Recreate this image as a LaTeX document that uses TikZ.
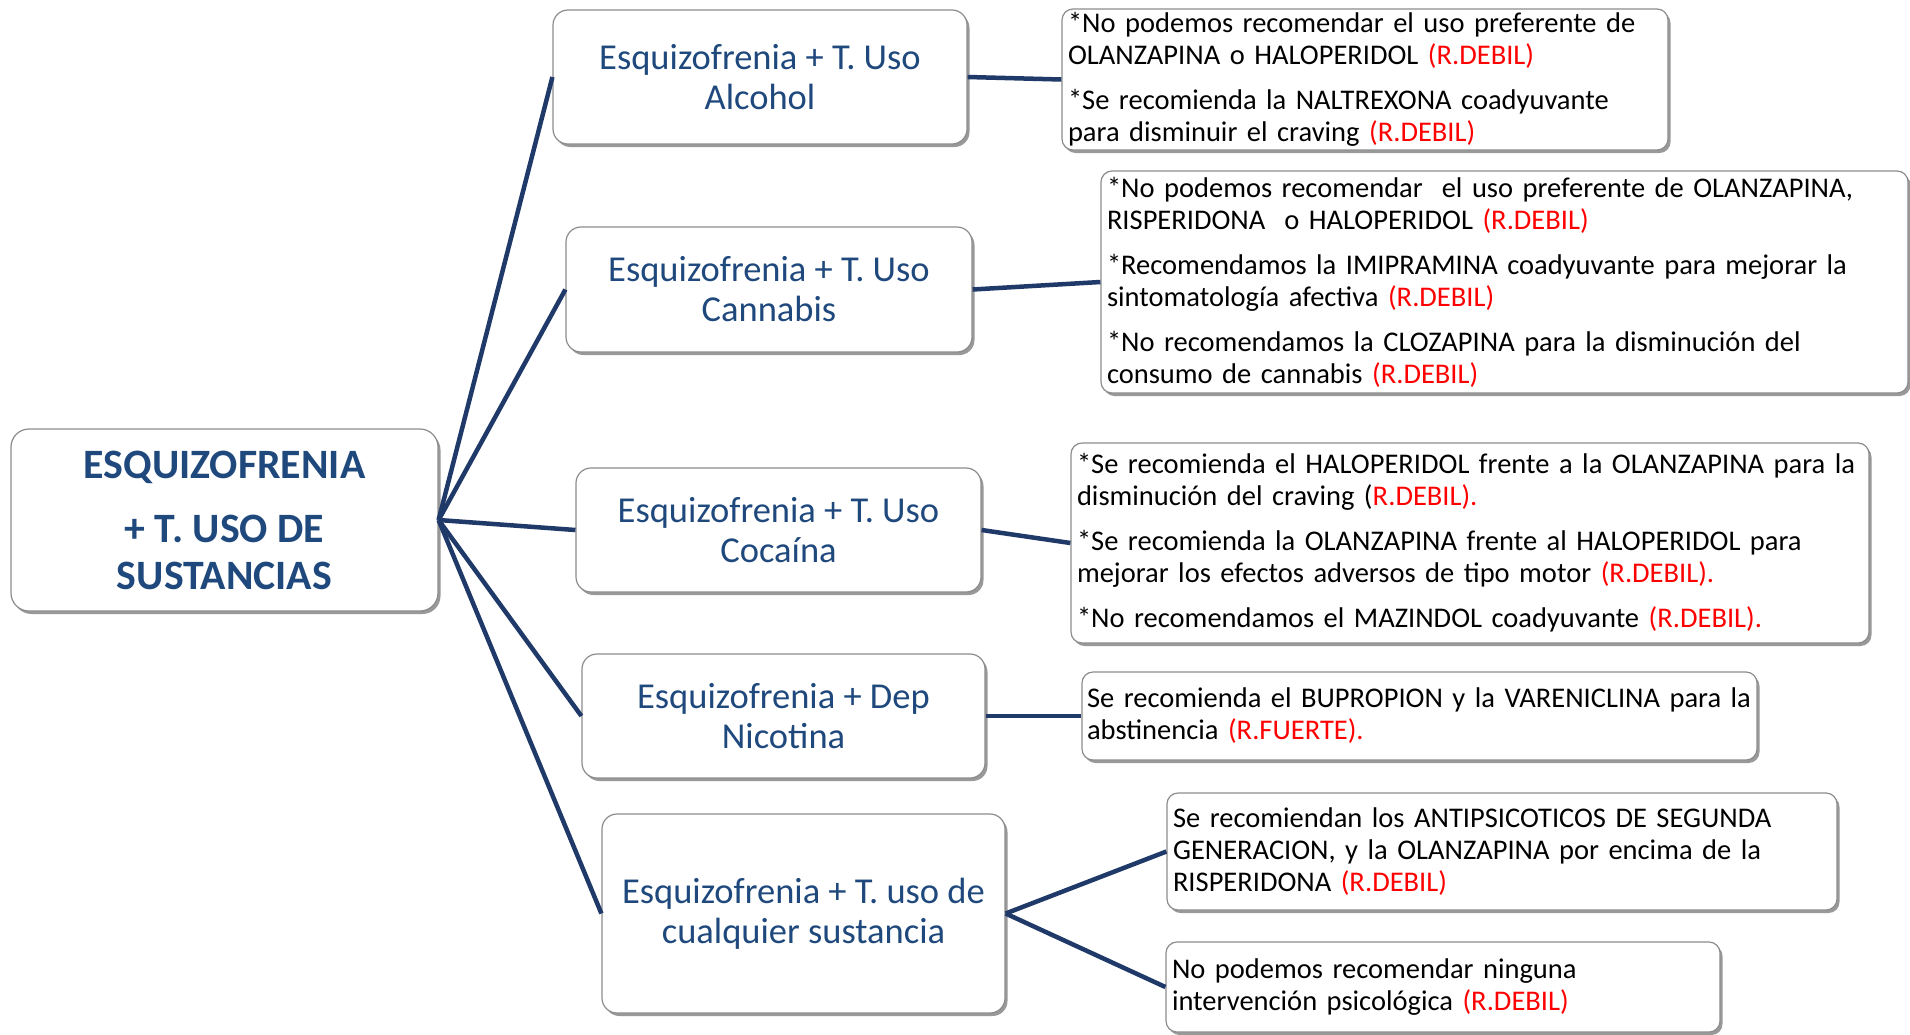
\documentclass[tikz,border=0pt]{standalone}
\usepackage{fontspec}
\setmainfont{Carlito}
\usetikzlibrary{shadows}
\definecolor{navy}{HTML}{1F3A68}
\definecolor{txtblue}{HTML}{1F497D}
\definecolor{rred}{HTML}{FF0000}
\definecolor{bordergray}{HTML}{8C8C8C}
\newcommand{\rd}[1]{\textcolor{rred}{#1}}
\tikzset{
  boxbase/.style={draw=bordergray, line width=1.2pt, fill=white,
    drop shadow={shadow xshift=2.5pt, shadow yshift=-3pt, fill=black!50, opacity=0.8}},
  rootbox/.style={boxbase, rounded corners=18pt, align=center, text=txtblue,
    font=\fontsize{41.8}{47}\selectfont\bfseries, inner sep=0pt},
  branchbox/.style={boxbase, rounded corners=15pt, align=center, text=txtblue,
    font=\fontsize{36.5}{40}\selectfont, inner sep=0pt},
  recbox/.style={boxbase, rounded corners=11pt, align=left, text=black,
    font=\fontsize{28.5}{32}\selectfont, inner xsep=6pt, inner ysep=0pt},
  conn/.style={draw=navy, line width=4.5pt}
}
\begin{document}
\begin{tikzpicture}[x=1pt,y=-1pt]
\useasboundingbox[fill=white] (0,0) rectangle (1910,1034);

\node[rootbox, minimum width=427pt, minimum height=182pt] (root) at (224.5,520)
  {ESQUIZOFRENIA\\[17pt]+ T. USO DE\\SUSTANCIAS};

\node[branchbox, minimum width=414pt, minimum height=134pt] (alc) at (760,77)
  {Esquizofrenia + T. Uso\\Alcohol};
\node[branchbox, minimum width=406pt, minimum height=125pt] (can) at (769,289.5)
  {Esquizofrenia + T. Uso\\Cannabis};
\node[branchbox, minimum width=405pt, minimum height=124pt] (coc) at (778.5,530)
  {Esquizofrenia + T. Uso\\Cocaína};
\node[branchbox, minimum width=403pt, minimum height=124pt] (nic) at (783.5,716)
  {Esquizofrenia + Dep\\Nicotina};
\node[branchbox, minimum width=403pt, minimum height=199pt] (cua) at (803.5,913.5)
  {Esquizofrenia + T. uso de\\cualquier sustancia};

\node[recbox, text width=594pt, minimum height=141pt] (r1) at (1365,79.5)
  {*No podemos recomendar el uso preferente de\\OLANZAPINA o HALOPERIDOL \rd{(R.DEBIL)}\\[13pt]
   *Se recomienda la NALTREXONA coadyuvante\\para disminuir el craving \rd{(R.DEBIL)}};
\node[recbox, text width=795pt, minimum height=222pt] (r2) at (1504.5,282)
  {*No podemos recomendar\ \ el uso preferente de OLANZAPINA,\\RISPERIDONA\ \ o HALOPERIDOL \rd{(R.DEBIL)}\\[13pt]
   *Recomendamos la IMIPRAMINA coadyuvante para mejorar la\\sintomatología afectiva \rd{(R.DEBIL)}\\[13pt]
   *No recomendamos la CLOZAPINA para la disminución del\\consumo de cannabis \rd{(R.DEBIL)}};
\node[recbox, text width=786pt, minimum height=200pt] (r3) at (1470,543)
  {\mbox{*Se recomienda el HALOPERIDOL frente a la OLANZAPINA para la}\\disminución del craving (\rd{R.DEBIL).}\\[13pt]
   *Se recomienda la OLANZAPINA frente al HALOPERIDOL para\\mejorar los efectos adversos de tipo motor \rd{(R.DEBIL).}\\[13pt]
   *No recomendamos el MAZINDOL coadyuvante \rd{(R.DEBIL).}};
\node[recbox, inner xsep=5pt, text width=665pt, minimum height=88pt] (r4) at (1419.5,716)
  {\mbox{Se recomienda el BUPROPION y la VARENICLINA para la}\\abstinencia \rd{(R.FUERTE).}};
\node[recbox, text width=658pt, minimum height=117pt] (r5) at (1502,851.5)
  {Se recomiendan los ANTIPSICOTICOS DE SEGUNDA\\GENERACION, y la OLANZAPINA por encima de la\\RISPERIDONA \rd{(R.DEBIL)}};
\node[recbox, text width=542pt, minimum height=90pt] (r6) at (1443,987)
  {No podemos recomendar ninguna\\intervención psicológica \rd{(R.DEBIL)}};

\foreach \b in {alc,can,coc,nic,cua} \draw[conn] (root.east) -- (\b.west);
\draw[conn] (alc.east) -- (r1.west);
\draw[conn] (can.east) -- (r2.west);
\draw[conn] (coc.east) -- (r3.west);
\draw[conn] (nic.east) -- (r4.west);
\draw[conn] (cua.east) -- (r5.west);
\draw[conn] (cua.east) -- (r6.west);
\end{tikzpicture}
\end{document}
